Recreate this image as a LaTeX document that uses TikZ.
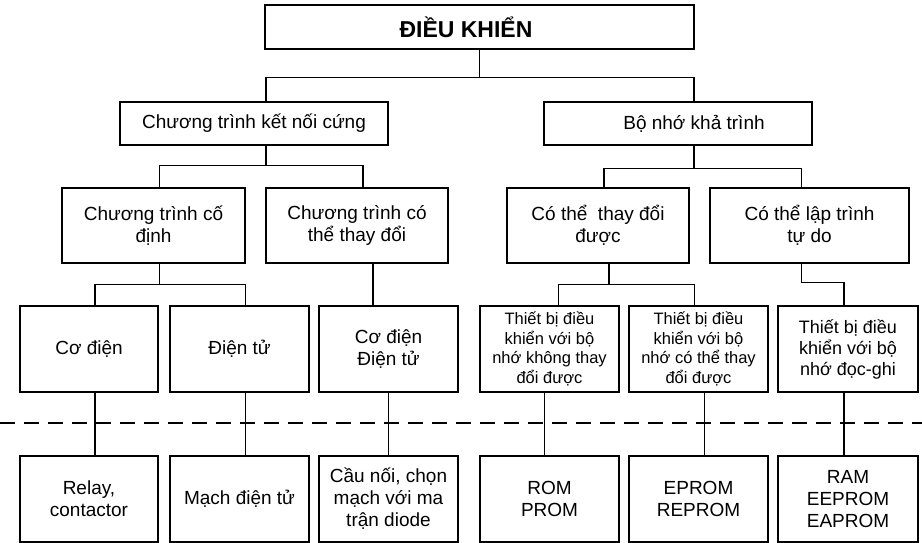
\documentclass[tikz,border=0pt]{standalone}
\usepackage{fontspec}
\setmainfont{Liberation Sans}
\begin{document}
\begin{tikzpicture}[x=1pt, y=-1pt, line width=1.25pt,
        box/.style={draw, align=center, inner sep=2pt, minimum height=86,
                    font=\fontsize{19}{22}\selectfont},
        smalltext/.style={font=\fontsize{16.5}{19.5}\selectfont}]
                    \useasboundingbox (0,0) rectangle (922,543);

                    % level 1 and 2
                    \node[box, minimum width=429, minimum height=44,
                          font=\fontsize{23}{27}\selectfont\bfseries] (top) at (479.5,27) {\hspace*{-27pt}ĐIỀU KHIỂN};
                    \node[box, minimum width=268, minimum height=43] (hw)   at (254,123.5) {Chương trình kết nối cứng};
                    \node[box, minimum width=268, minimum height=43] (prog) at (678,123.5) {\hspace*{32pt}Bộ nhớ khả trình};

                    % level 3
                    \node[box, minimum width=183, minimum height=75] (fixed) at (153.5,225.5) {Chương trình cố\\định};
                    \node[box, minimum width=182, minimum height=75] (var)   at (357,225.5)   {Chương trình có\\thể thay đổi};
                    \node[box, minimum width=182, minimum height=75] (chg)   at (598,225.5)   {Có thể~ thay đổi\\được};
                    \node[box, minimum width=199, minimum height=75] (free)  at (809.5,225.5) {Có thể lập trình\\tự do};

                    % level 4
                    \node[box, minimum width=138] (emech) at (89,349)    {Cơ điện};
                    \node[box, minimum width=139] (elec)  at (239.5,349) {Điện tử};
                    \node[box, minimum width=139] (emel)  at (388.5,349) {Cơ điện\\Điện tử};
                    \node[box, minimum width=139, smalltext] (rom1) at (549.5,349) {Thiết bị điều\\khiển với bộ\\nhớ không thay\\đổi được};
                    \node[box, minimum width=139, smalltext] (rom2) at (698.5,349) {Thiết bị điều\\khiển với bộ\\nhớ có thể thay\\đổi được};
                    \node[box, minimum width=140, font=\fontsize{18}{21}\selectfont] (ram) at (848,349) {Thiết bị điều\\khiển với bộ\\nhớ đọc-ghi};

                    % level 5
                    \node[box, minimum width=138] (relay)  at (89,499)    {Relay,\\contactor};
                    \node[box, minimum width=139] (circ)   at (239.5,499) {Mạch điện tử};
                    \node[box, minimum width=139] (diode)  at (388.5,499) {Cầu nối, chọn\\mạch với ma\\trận diode};
                    \node[box, minimum width=139] (rom)    at (549.5,499) {ROM\\PROM};
                    \node[box, minimum width=139] (eprom)  at (698.5,499) {EPROM\\REPROM};
                    \node[box, minimum width=140] (eeprom) at (848,499)   {RAM\\EEPROM\\EAPROM};

                    \draw[dash pattern=on 15pt off 9pt] (0,423) -- (922,423);

                    \draw (top.south) -- ++(0,28) coordinate (J0);
                    \draw ([xshift=12]hw.north) |- (J0) -| ([xshift=16]prog.north);

                    \draw ([xshift=12]hw.south) -- ++(0,20) coordinate (J1);
                    \draw ([xshift=6]fixed.north) |- (J1) -| ([xshift=6]var.north);

                    \draw ([xshift=16]prog.south) -- ++(0,23) coordinate (J2);
                    \draw ([xshift=6]chg.north) |- (J2) -| ([xshift=-8]free.north);

                    \draw ([xshift=6]fixed.south) -- ++(0,21) coordinate (J3);
                    \draw ([xshift=6]emech.north) |- (J3) -| ([xshift=6]elec.north);
                    \path ([xshift=16]var.south) coordinate (V0);
                    \draw (V0) -- (V0 |- emel.north);

                    \draw ([xshift=11]chg.south) -- ++(0,21) coordinate (J4);
                    \draw ([xshift=9]rom1.north) |- (J4) -| ([xshift=-4]rom2.north);
                    \draw ([xshift=-8]free.south) -- ++(0,19) -| ([xshift=-4]ram.north);

                    %\draw[gray] (emech) -- (relay);
                    \draw ([xshift=6]emech.south) -- ([xshift=6]relay.north);
                    \draw ([xshift=6]elec.south)  -- ([xshift=6]circ.north);
                    \draw (emel.south)  -- (diode.north);
                    \draw ([xshift=-5]rom1.south) -- ([xshift=-5]rom.north);
                    \draw ([xshift=6]rom2.south)  -- ([xshift=6]eprom.north);
                    \draw ([xshift=-4]ram.south)  -- ([xshift=-4]eeprom.north);

                \end{tikzpicture}
\end{document}
